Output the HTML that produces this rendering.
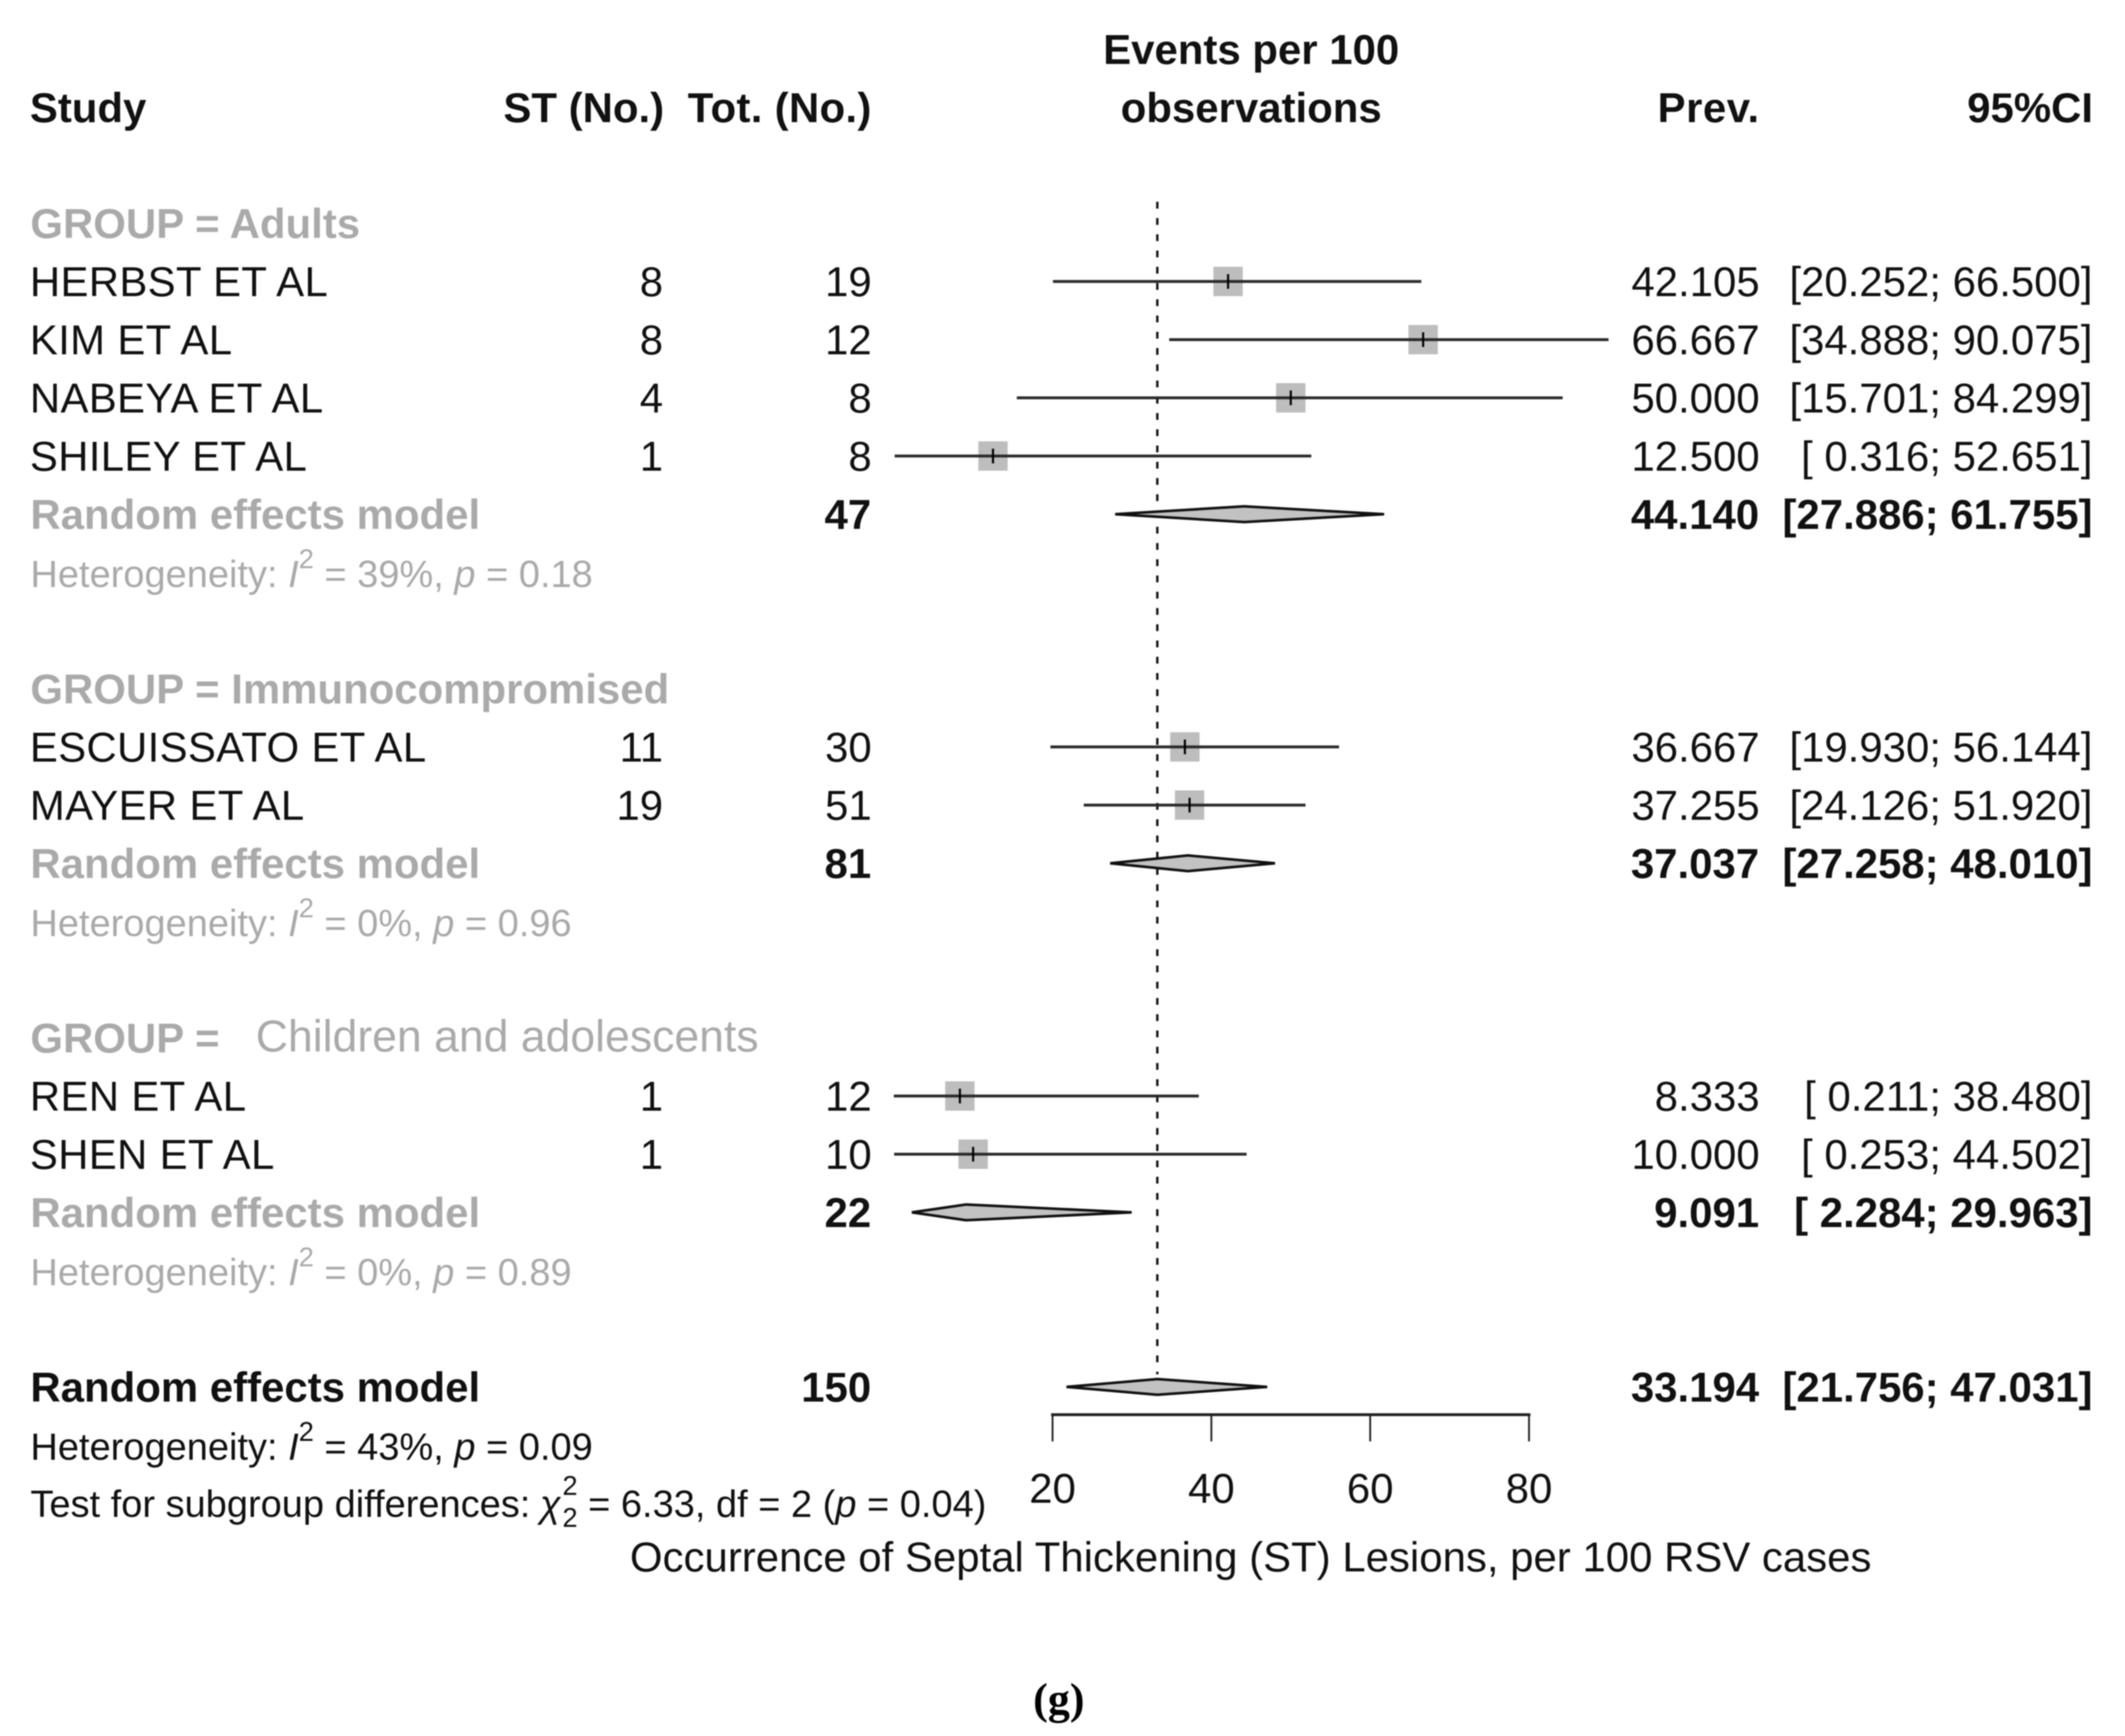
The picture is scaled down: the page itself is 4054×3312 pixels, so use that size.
<!DOCTYPE html>
<html lang="en">
<head>
<meta charset="utf-8">
<title>Forest plot: Septal Thickening occurrence</title>
<style>
html,body{margin:0;padding:0;background:#fff;width:4054px;height:3312px;overflow:hidden}
svg{display:block;filter:blur(1.1px)}
text{font-family:"Liberation Sans",Arial,sans-serif;font-size:80px;fill:#111;white-space:pre}
.b{font-weight:700}
.g{fill:#aaa}
.r{text-anchor:end}
.m{text-anchor:middle}
.h{font-size:72.5px}
.i{font-style:italic}
.s{letter-spacing:.6px}
</style>
</head>
<body>
<svg id="plot" xmlns="http://www.w3.org/2000/svg" width="4054" height="3312" viewBox="0 0 4054 3312">
  <rect x="0" y="0" width="4054" height="3312" fill="#fff"/>
  <text class="b m" x="2387" y="122">Events per 100</text>
  <text class="b m" x="2387" y="233">observations</text>
  <text class="b" x="57" y="233">Study</text>
  <text class="b r" x="1267" y="233">ST (No.)</text>
  <text class="b r s" x="1663" y="233">Tot. (No.)</text>
  <text class="b r" x="3357" y="233" style="letter-spacing:1px">Prev.</text>
  <text class="b r" x="3993" y="233">95%CI</text>
  <g id="marks"></g>
  <g id="labels"></g>
  <g id="axis"></g>
  <text class="m" x="2386" y="2998">Occurrence of Septal Thickening (ST) Lesions, per 100 RSV cases</text>
  <text class="h" x="58" y="2894">Test for subgroup differences:</text>
  <text class="h i" x="1030" y="2894">χ</text>
  <text x="1073" y="2852" style="font-size:52px">2</text>
  <text x="1073" y="2913" style="font-size:52px">2</text>
  <text class="h" x="1122" y="2894">= 6.33, df = 2 (<tspan class="i">p</tspan> = 0.04)</text>
  <text x="2020" y="3269" style="font-family:'Liberation Serif',serif;font-weight:700;font-size:84px;text-anchor:middle;fill:#000">(g)</text>
</svg>
<script>
const studyNames = ['HERBST ET AL','KIM ET AL','NABEYA ET AL','SHILEY ET AL','ESCUISSATO ET AL','MAYER ET AL','REN ET AL','SHEN ET AL'];
const studyEvents = [8,8,4,1,11,19,1,1];
const studyTotals = [19,12,8,8,30,51,12,10];
const studyPrev = [42.105,66.667,50.000,12.500,36.667,37.255,8.333,10.000];
const studyLower = [20.252,34.888,15.701,0.316,19.930,24.126,0.211,0.253];
const studyUpper = [66.500,90.075,84.299,52.651,56.144,51.920,38.480,44.502];
const studyGroup = [0,0,0,0,1,1,2,2];
const groupNames = ['Adults','Immunocompromised','Children and adolescents'];
const groupTotals = [47,81,22];
const groupPrev = [44.140,37.037,9.091];
const groupLower = [27.886,27.258,2.284];
const groupUpper = [61.755,48.010,29.963];
const groupI2 = [39,0,0];
const groupP = ['0.18','0.96','0.89'];
const overallTotal = 150;
const overallPrev = 33.194;
const overallLower = 21.756;
const overallUpper = 47.031;
const overallI2 = 43;
const overallP = '0.09';
const axisTicks = [20,40,60,80];

const NS = 'http://www.w3.org/2000/svg';
const marks = document.getElementById('marks');
const labels = document.getElementById('labels');
const axisG = document.getElementById('axis');
const xScale = v => 2008 + (v - 20) * 15.15;
const rowY = k => 537 + 111 * k;
const BASE = 28;
const DARK = '#2a2a2a';

function mk(tag, parent, attrs) {
  const el = document.createElementNS(NS, tag);
  for (const k in attrs) el.setAttribute(k, attrs[k]);
  parent.appendChild(el);
  return el;
}
function txt(parent, x, y, cls, content) {
  const el = mk('text', parent, {x: x, y: y, class: cls});
  el.textContent = content;
  return el;
}
function ciText(lo, hi) {
  const a = lo.toFixed(3);
  return '[' + (lo < 10 ? '\u00A0' : '') + a + '; ' + hi.toFixed(3) + ']';
}
function hetMarkup(i2, p) {
  return 'Heterogeneity: <tspan class="i">I</tspan><tspan dy="-36" style="font-size:52px">2</tspan><tspan dy="36"> = ' + i2 + '%, </tspan><tspan class="i">p</tspan> = ' + p;
}
function diamond(k, lo, est, hi) {
  const y = rowY(k);
  const pts = [[xScale(lo),y],[xScale(est),y-15],[xScale(hi),y],[xScale(est),y+15]].map(p => p.join(',')).join(' ');
  return mk('polygon', marks, {points: pts, fill: '#c2c2c2', stroke: '#111', 'stroke-width': 5, 'stroke-linejoin': 'miter', 'stroke-miterlimit': 4});
}

/* reference line, drawn first so marks sit above it */
const refLine = mk('line', marks, {x1: xScale(overallPrev), x2: xScale(overallPrev), y1: 385, y2: 2622, stroke: '#111', 'stroke-width': 4.5, 'stroke-dasharray': '13 18'});



let row = -1;
groupNames.forEach((name, g) => {
  const head = txt(labels, 58, rowY(row) + BASE, 'b g', 'GROUP =' + (g === 2 ? '' : ' ' + name));
  
  
  if (g === 2) {
    const headName = txt(labels, 488, rowY(row) + BASE - 2, 'g', name);
    headName.style.fontSize = '85px';
    
    
  }
  row++;
  studyNames.forEach((study, i) => {
    if (studyGroup[i] !== g) return;
    const y = rowY(row);
    const tb = y + BASE;
    const a = txt(labels, 57, tb, 's', study);
    
    
    const b = txt(labels, 1265, tb, 'r', String(studyEvents[i]));
    
    
    const c = txt(labels, 1663, tb, 'r', String(studyTotals[i]));
    
    
    const d = txt(labels, 3357, tb, 'r', studyPrev[i].toFixed(3));
    
    
    const e = txt(labels, 3992, tb, 'r', ciText(studyLower[i], studyUpper[i]));
    
    

    const cx = xScale(studyPrev[i]);
    const sq = mk('rect', marks, {x: cx - 28, y: y - 28, width: 56, height: 56, fill: '#bdbdbd'});
    
    
    const ci = mk('line', marks, {x1: xScale(studyLower[i]) - 3, x2: xScale(studyUpper[i]) - 1, y1: y, y2: y, stroke: DARK, 'stroke-width': 5.5});
    
    
    const tick = mk('line', marks, {x1: cx, x2: cx, y1: y - 14, y2: y + 14, stroke: '#000', 'stroke-width': 4});
    
    
    row++;
  });
  const tb = rowY(row) + BASE;
  const m = txt(labels, 58, tb, 'b g', 'Random effects model');
  
  
  const t = txt(labels, 1662, tb, 'b r', String(groupTotals[g]));
  
  
  const p = txt(labels, 3356, tb, 'b r', groupPrev[g].toFixed(3));
  
  
  const ci = txt(labels, 3992, tb, 'b r', ciText(groupLower[g], groupUpper[g]));
  
  
  const dm = diamond(row, groupLower[g], groupPrev[g], groupUpper[g]);
  
  
  row++;
  const het = mk('text', labels, {x: 58, y: rowY(row) + BASE, class: 'h g'});
  het.innerHTML = hetMarkup(groupI2[g], groupP[g]);
  
  
  row += 2;
});

const oTb = rowY(row) + BASE;
const oLabel = txt(labels, 58, oTb, 'b', 'Random effects model');


const oTotal = txt(labels, 1662, oTb, 'b r', String(overallTotal));


const oPrev = txt(labels, 3356, oTb, 'b r', overallPrev.toFixed(3));


const oCi = txt(labels, 3992, oTb, 'b r', ciText(overallLower, overallUpper));


const oDiamond = diamond(row, overallLower, overallPrev, overallUpper);


row++;
const oHet = mk('text', labels, {x: 58, y: rowY(row) + BASE, class: 'h'});
oHet.innerHTML = hetMarkup(overallI2, overallP);



const axisLine = mk('line', axisG, {x1: xScale(axisTicks[0]), x2: xScale(axisTicks[axisTicks.length - 1]), y1: 2699, y2: 2699, stroke: '#222', 'stroke-width': 5.5, 'stroke-linecap': 'square'});


axisTicks.forEach(v => {
  const tk = mk('line', axisG, {x1: xScale(v), x2: xScale(v), y1: 2699, y2: 2750, stroke: '#222', 'stroke-width': 3.5});
  
  
  const lb = txt(axisG, xScale(v), 2867, 'm', String(v));
  
  
});
</script>
</body>
</html>
